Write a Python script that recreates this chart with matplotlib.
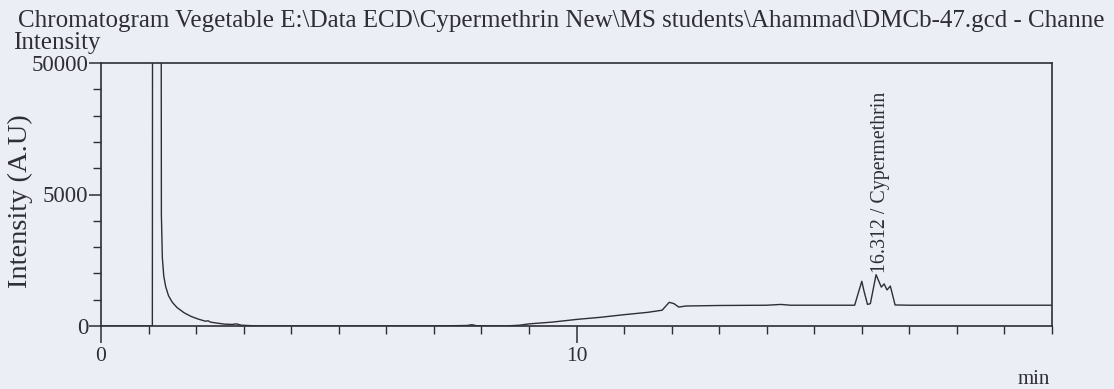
import matplotlib
matplotlib.use("Agg")
import matplotlib.pyplot as plt
from matplotlib.ticker import MultipleLocator, FixedLocator, FixedFormatter

# Retention time (min) and detector response (A.U) of the ECD trace
time_min = [
    0.00, 1.00, 1.08, 1.10, 1.24, 1.27, 1.29, 1.32, 1.36, 1.42, 1.50, 1.60,
    1.75, 1.90, 2.05, 2.20, 2.25, 2.30, 2.40, 2.60, 2.75, 2.85, 2.95, 3.20,
    3.50, 7.00, 7.70, 7.80, 7.90, 8.50, 8.80, 9.00, 9.50, 10.00, 10.50,
    11.00, 11.50, 11.80, 11.95, 12.05, 12.15, 12.30, 13.00, 14.00, 14.30,
    14.50, 15.00, 15.85, 15.95, 16.00, 16.05, 16.12, 16.18, 16.30, 16.37,
    16.41, 16.47, 16.53, 16.60, 16.70, 17.00, 18.00, 19.00, 20.00,
]
intensity = [
    0, 0, 0, 60000, 60000, 4200, 2600, 1900, 1500, 1150, 900, 700,
    500, 360, 260, 180, 200, 150, 120, 70, 60, 80, 30, 10,
    0, 0, 20, 50, 10, 0, 30, 80, 150, 250, 330,
    430, 520, 600, 900, 850, 720, 760, 780, 790, 820,
    790, 790, 790, 1400, 1700, 1300, 820, 850, 1950, 1650,
    1480, 1600, 1370, 1520, 800, 790, 790, 790, 790,
]

# Axis ticks
y_major = [0, 5000, 10000]
y_major_labels = ["0", "5000", "50000"]
x_major = [0, 10]
x_major_labels = ["0", "10"]

peak_time = 16.312
peak_name = "Cypermethrin"

title = ("Chromatogram Vegetable E:\\Data ECD\\Cypermethrin New\\MS students"
         "\\Ahammad\\DMCb-47.gcd - Channe")

bg = "#eceef6"
ink = "#2e2e34"
serif = ["Liberation Serif", "DejaVu Serif"]

fig = plt.figure(figsize=(11.14, 3.89), dpi=100, facecolor=bg)
ax = fig.add_axes([101 / 1114, 1 - 326 / 389, (1052 - 101) / 1114, (326 - 63) / 389])
ax.set_facecolor(bg)

ax.plot(time_min, intensity, color=ink, lw=1.0)

ax.set_xlim(0, 20)
ax.set_ylim(0, 10000)

ax.xaxis.set_major_locator(FixedLocator(x_major))
ax.xaxis.set_major_formatter(FixedFormatter(x_major_labels))
ax.xaxis.set_minor_locator(MultipleLocator(1))
ax.yaxis.set_major_locator(FixedLocator(y_major))
ax.yaxis.set_major_formatter(FixedFormatter(y_major_labels))
ax.yaxis.set_minor_locator(MultipleLocator(1000))

ax.tick_params(axis="x", which="major", direction="out", length=12, width=1.1,
               color=ink, labelsize=15.5, labelcolor=ink, pad=3)
ax.tick_params(axis="x", which="minor", direction="out", length=6, width=1.0, color=ink)
ax.tick_params(axis="y", which="major", direction="out", length=9, width=1.1,
               color=ink, labelsize=16.5, labelcolor=ink, pad=0)
ax.tick_params(axis="y", which="minor", direction="out", length=6, width=1.0, color=ink)
for lab in ax.get_xticklabels() + ax.get_yticklabels():
    lab.set_family(serif)

for s in ax.spines.values():
    s.set_color(ink)
    s.set_linewidth(1.2)

ax.set_ylabel("Intensity (A.U)", family=serif, fontsize=20.5, color=ink)
ax.yaxis.set_label_coords(-0.071, 0.475)

# Peak annotation, written vertically above the apex
ax.annotate(f"{peak_time:.3f} / {peak_name}", xy=(peak_time, 2000),
            xytext=(3, 0), textcoords="offset points", rotation=90,
            ha="center", va="bottom", family=serif, fontsize=14.4, color=ink)

fig.text(18 / 1114, 1 - 27 / 389, title, ha="left", va="baseline",
         family=serif, fontsize=18, color=ink)
fig.text(13 / 1114, 1 - 49 / 389, "Intensity", ha="left", va="baseline",
         family=serif, fontsize=18, color=ink)
fig.text(1050 / 1114, 1 - 384 / 389, "min", ha="right", va="baseline",
         family=serif, fontsize=15, color=ink)

fig.savefig("out.png", dpi=100, facecolor=bg)
